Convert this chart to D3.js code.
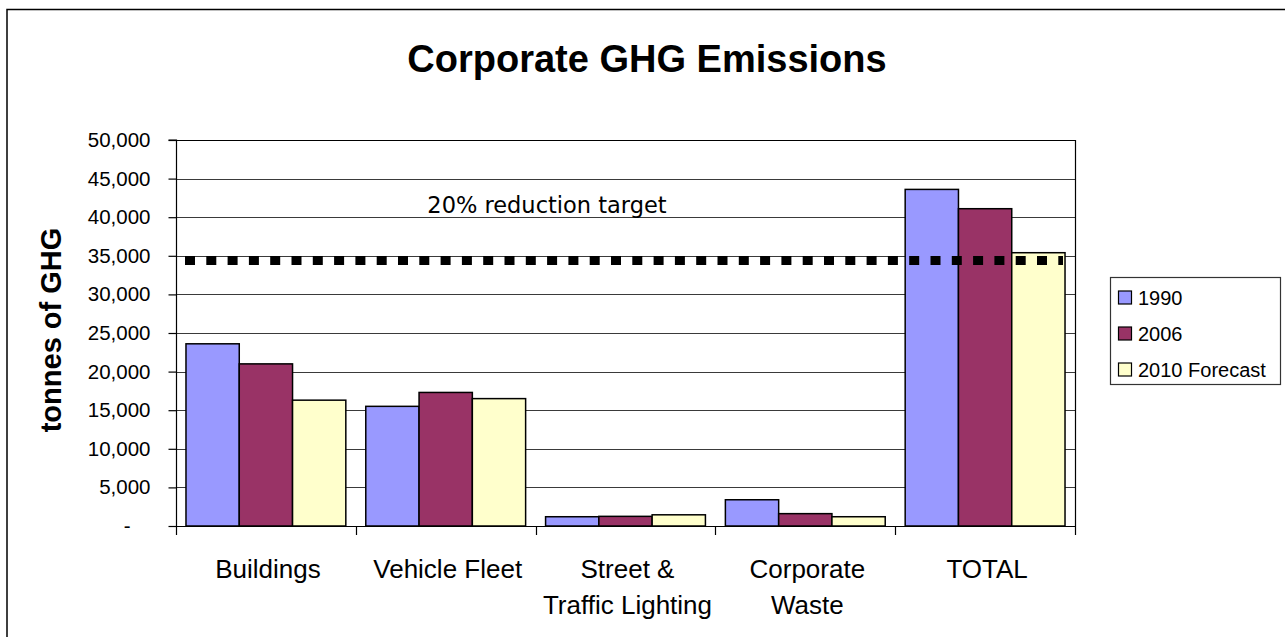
<!DOCTYPE html>
<html lang="en">
<head>
    <meta charset="UTF-8">
    <title>Corporate GHG Emissions</title>
    <script src="https://d3js.org/d3.v7.min.js"></script>

<style>
    body { margin: 0; background: #fff; }
    text { font-family: "Liberation Sans", Arial, sans-serif; fill: #000; }
    .bar { stroke: #000; stroke-width: 1.5px; }
    .grid line { stroke: #3a3a3a; stroke-width: 1px; }
</style>

</head>
<body>
    <svg id="canvas" width="1285" height="637"></svg>

    <script>
        // chart data
        var categories = [["Buildings"], ["Vehicle Fleet"], ["Street &", "Traffic Lighting"], ["Corporate", "Waste"], ["TOTAL"]];
        var seriesNames = ["1990", "2006", "2010 Forecast"];
        var values1990 = [23600, 15500, 1200, 3400, 43600];
        var values2006 = [21000, 17300, 1250, 1600, 41100];
        var values2010 = [16300, 16500, 1450, 1200, 35400];
        var yTicks = [0, 5000, 10000, 15000, 20000, 25000, 30000, 35000, 40000, 45000, 50000];
        var targetValue = 34400;
        var targetLabel = "20% reduction target";

        var colors = ["#9999ff", "#993366", "#ffffcc"];
        var allValues = [values1990, values2006, values2010];

        var svg = d3.select('svg');

        // outer chart frame (runs off the right and bottom edges)
        svg.append("rect")
            .attr("x", 7).attr("y", 9.5)
            .attr("width", 1300).attr("height", 660)
            .attr("fill", "none").attr("stroke", "#000").attr("stroke-width", 1.5);

        var plotLeft = 176, plotRight = 1075, plotTop = 140, plotBottom = 526;

        var catKeys = categories.map(function(c){ return c.join(" "); });

        var x = d3.scaleBand()
            .domain(catKeys)
            .range([plotLeft, plotRight])
            .paddingInner(0.111)
            .paddingOuter(0.0555);

        var xSeries = d3.scaleBand()
            .domain(seriesNames)
            .range([0, x.bandwidth()]);

        var y = d3.scaleLinear()
            .domain([0, 50000])
            .range([plotBottom, plotTop]);

        // gridlines
        svg.append("g")
            .attr("class", "grid")
            .selectAll("line")
            .data(yTicks.filter(function(t){ return t > 0 && t < 50000; }))
            .enter()
            .append("line")
            .attr("x1", plotLeft).attr("x2", plotRight)
            .attr("y1", function(d){ return Math.round(y(d)) + 0.5; })
            .attr("y2", function(d){ return Math.round(y(d)) + 0.5; });

        // plot top and right border
        svg.append("path")
            .attr("d", "M" + plotLeft + "," + (plotTop + 0.5) + "H" + (plotRight + 0.5) + "V" + plotBottom)
            .attr("fill", "none").attr("stroke", "#000").attr("stroke-width", 1.2);

        // bars
        var rows = catKeys.map(function(k, i) {
            return seriesNames.map(function(s, j){ return {cat: k, series: s, value: allValues[j][i], color: colors[j]}; });
        });

        svg.append("g")
            .selectAll("g")
            .data(rows)
            .enter()
            .append("g")
            .attr("transform", function(d) { return "translate(" + x(d[0].cat) + ",0)"; })
            .selectAll("rect")
            .data(function(d){ return d; })
            .enter()
            .append("rect")
            .attr("class", "bar")
            .attr("x", function(d){ return xSeries(d.series); })
            .attr("y", function(d){ return y(d.value); })
            .attr("width", xSeries.bandwidth())
            .attr("height", function(d){ return plotBottom - y(d.value); })
            .attr("fill", function(d){ return d.color; });

        // y axis
        var yAxis = d3.axisLeft(y)
            .tickValues(yTicks)
            .tickSize(8)
            .tickPadding(18)
            .tickFormat(function(d){ return d === 0 ? "-" : d3.format(",")(d); });

        var gy = svg.append("g")
            .attr("transform", "translate(" + (plotLeft + 0.5) + ",0)")
            .call(yAxis);
        gy.selectAll("path, line").attr("stroke", "#000").attr("stroke-width", 1.2);
        gy.select(".domain").attr("d", "M-8," + plotTop + "H0V" + (plotBottom + 0.5));
        gy.selectAll("text")
            .attr("font-family", "'Liberation Sans', Arial, sans-serif")
            .attr("font-size", 20.5)
            .attr("dx", function(d){ return d === 0 ? -20 : 0; });

        // x axis: ticks at band boundaries
        var bounds = d3.range(catKeys.length + 1).map(function(i){ return plotLeft + i * (plotRight - plotLeft) / catKeys.length; });
        svg.append("line")
            .attr("x1", plotLeft).attr("x2", plotRight + 0.5)
            .attr("y1", plotBottom + 0.5).attr("y2", plotBottom + 0.5)
            .attr("stroke", "#000").attr("stroke-width", 1.2);
        svg.append("g")
            .selectAll("line")
            .data(bounds)
            .enter()
            .append("line")
            .attr("x1", function(d){ return Math.round(d) + 0.5; })
            .attr("x2", function(d){ return Math.round(d) + 0.5; })
            .attr("y1", plotBottom).attr("y2", plotBottom + 9)
            .attr("stroke", "#000").attr("stroke-width", 1.2);

        // category labels
        svg.append("g")
            .selectAll("text")
            .data(categories)
            .enter()
            .append("text")
            .attr("text-anchor", "middle")
            .attr("font-size", 26)
            .attr("transform", function(d, i){ return "translate(" + (x(catKeys[i]) + x.bandwidth() / 2 + 2) + ",578)"; })
            .selectAll("tspan")
            .data(function(d){ return d; })
            .enter()
            .append("tspan")
            .attr("x", 0)
            .attr("y", function(d, i){ return i * 36; })
            .text(function(d){ return d; });

        // target line
        svg.append("line")
            .attr("x1", plotLeft + 9).attr("x2", plotRight - 12)
            .attr("y1", y(targetValue)).attr("y2", y(targetValue))
            .attr("stroke", "#000")
            .attr("stroke-width", 9)
            .attr("stroke-dasharray", "10 11.3");

        svg.append("text")
            .attr("x", 547).attr("y", 213)
            .attr("text-anchor", "middle")
            .style("font-family", "'DejaVu Sans', Verdana, sans-serif")
            .attr("font-size", 22.5)
            .text(targetLabel);

        // title
        svg.append("text")
            .attr("x", 647).attr("y", 72)
            .attr("text-anchor", "middle")
            .attr("font-size", 38)
            .attr("font-weight", "bold")
            .text("Corporate GHG Emissions");

        // y axis title
        svg.append("text")
            .attr("transform", "translate(61,330) rotate(-90)")
            .attr("text-anchor", "middle")
            .attr("font-size", 29)
            .attr("font-weight", "bold")
            .text("tonnes of GHG");

        // legend
        var legend = svg.append("g").attr("transform", "translate(1110,277)");
        legend.append("rect")
            .attr("x", 0.5).attr("y", 0.5)
            .attr("width", 170).attr("height", 107)
            .attr("fill", "#fff").attr("stroke", "#333").attr("stroke-width", 1.2);

        var item = legend.selectAll(".item")
            .data(seriesNames)
            .enter()
            .append("g")
            .attr("class", "item")
            .attr("transform", function(d, i){ return "translate(0," + (20.5 + i * 36) + ")"; });

        item.append("rect")
            .attr("x", 8.5).attr("y", -6.5)
            .attr("width", 13).attr("height", 13)
            .attr("fill", function(d, i){ return colors[i]; })
            .attr("stroke", "#000").attr("stroke-width", 1.2);

        item.append("text")
            .attr("x", 28).attr("y", 7.5)
            .attr("font-size", 20)
            .text(function(d){ return d; });
    </script>
</body>
</html>
